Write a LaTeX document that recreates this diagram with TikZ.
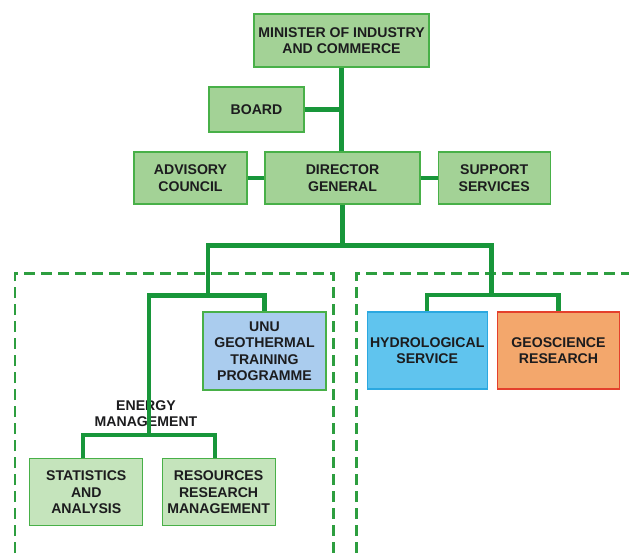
\documentclass[tikz,border=0pt]{standalone}
\usepackage{fontspec}
\setmainfont{Liberation Sans}
\definecolor{gfill}{RGB}{163,210,150}
\definecolor{gline}{RGB}{72,176,72}
\definecolor{lgfill}{RGB}{197,228,188}
\definecolor{ufill}{RGB}{170,204,238}
\definecolor{hfill}{RGB}{96,196,238}
\definecolor{hline}{RGB}{43,168,224}
\definecolor{ofill}{RGB}{243,167,108}
\definecolor{oline}{RGB}{228,64,44}
\definecolor{conncol}{RGB}{24,150,58}
\definecolor{dashcol}{RGB}{45,158,63}
\definecolor{txt}{RGB}{28,28,30}
\begin{document}
\begin{tikzpicture}[x=1pt,y=-1pt,
  box/.style={draw=gline, line width=1.1pt, fill=gfill, inner sep=0pt, align=center,
    text=txt, font=\fontsize{14.1}{16.5}\selectfont\bfseries},
  lbox/.style={box, fill=lgfill},
  ubox/.style={box, fill=ufill},
  hbox/.style={box, fill=hfill, draw=hline},
  obox/.style={box, fill=ofill, draw=oline},
  conn/.style={draw=conncol, line width=4.5pt, line join=miter},
  dbox/.style={draw=dashcol, line width=2.5pt, dash pattern=on 11pt off 6pt}]
\useasboundingbox (0,0) rectangle (629,558);
\clip (0,0) rectangle (629,558);
% dashed regions
\draw[dbox] (15,570) -- (15,273.3) -- (333.3,273.3) -- (333.3,570);
\draw[dbox] (356.7,570) -- (356.7,273.3) -- (640,273.3);
% boxes
\node[box, minimum width=175pt, minimum height=53pt] (min) at (341.5,40.5) {MINISTER OF INDUSTRY\\AND COMMERCE};
\node[box, minimum width=95pt, minimum height=45pt] (board) at (256.5,109.5) {BOARD};
\node[box, minimum width=113pt, minimum height=52pt] (adv) at (190.5,178) {ADVISORY\\COUNCIL};
\node[box, minimum width=155pt, minimum height=52pt] (dg) at (342.5,178) {DIRECTOR\\GENERAL};
\node[box, minimum width=112pt, minimum height=52pt] (sup) at (494.2,178) {SUPPORT\\SERVICES};
\node[ubox, minimum width=123pt, minimum height=78pt] (unu) at (264.5,351) {UNU\\GEOTHERMAL\\TRAINING\\PROGRAMME};
\node[hbox, minimum width=120pt, minimum height=77pt] (hyd) at (427.2,350.5) {HYDROLOGICAL\\SERVICE};
\node[obox, minimum width=122pt, minimum height=77pt] (geo) at (558.5,350.5) {GEOSCIENCE\\RESEARCH};
\node[lbox, minimum width=113pt, minimum height=67pt] (stat) at (86.3,492.3) {STATISTICS\\AND\\ANALYSIS};
\node[lbox, minimum width=113pt, minimum height=67pt] (res) at (218.6,492.3) {RESOURCES\\RESEARCH\\MANAGEMENT};
\node[align=center, inner sep=0pt, text=txt, font=\fontsize{14.1}{16.5}\selectfont\bfseries] (em) at (146,413.5) {ENERGY\\MANAGEMENT};
% junction coordinates
\coordinate (jL) at (208,245.7);
\coordinate (jR) at (491.7,245.7);
\coordinate (kL) at (208,295.7);
\coordinate (kR) at (491.7,295.2);
\coordinate (eTop) at (149,295.7);
\coordinate (eBot) at (149,435);
\coordinate (sL) at (83,435);
\coordinate (sR) at (215,435);
% connectors
\draw[conn] (min.south) -- (min.south |- dg.north);
\draw[conn] (board.east) -- (board.east -| min.south);
\draw[conn] (adv.east) -- (dg.west);
\draw[conn] (dg.east) -- (sup.west);
\draw[conn] (dg.south) -- (dg.south |- jL);
\draw[conn] (kL) -- (jL) -- (jR) -- (kR);
\draw[conn] (eBot) -- (eTop) -- (unu.north |- eTop) -- (unu.north);
\draw[conn] (sL |- stat.north) -- (sL) -- (sR) -- (sR |- res.north);
\draw[conn] (hyd.north) -- (hyd.north |- kR) -- (geo.north |- kR) -- (geo.north);
\end{tikzpicture}
\end{document}
